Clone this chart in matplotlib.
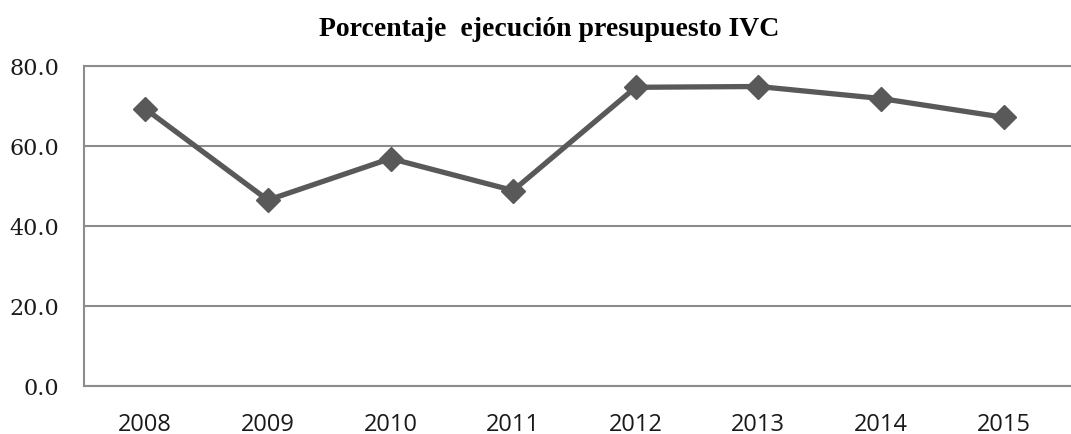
import matplotlib
matplotlib.use("Agg")
import matplotlib.pyplot as plt
import numpy as np

# data
years = ['2008', '2009', '2010', '2011', '2012', '2013', '2014', '2015']
ejecucion = [69.2, 46.4, 56.8, 48.8, 74.6, 74.8, 71.8, 67.1]
y_ticks = [0, 20, 40, 60, 80]

line_col = '#595959'
grid_col = '#8c8c8c'

fig = plt.figure(figsize=(10.71, 4.35), dpi=100)
ax = fig.add_axes([84/1071, 1 - 386.7/435, 1 - 84/1071, (386.7 - 66.7)/435])

x = np.arange(len(years))
ax.plot(x, ejecucion, color=line_col, linewidth=3.8, marker='D',
        markersize=12.5, markerfacecolor=line_col, markeredgecolor=line_col,
        zorder=3, clip_on=False)

ax.set_ylim(0, 80)
ax.set_xlim(-0.5, 7.55)
ax.set_yticks(y_ticks)
ax.set_yticklabels(['%.1f' % v for v in y_ticks], fontfamily='DejaVu Serif',
                   fontsize=16, color='#1a1a1a')
ax.set_xticks(x)
ax.set_xticklabels(years, fontfamily='Open Sans', fontsize=17, color='#1a1a1a')
ax.tick_params(axis='y', length=0, pad=18)
ax.tick_params(axis='x', length=0, pad=19)

ax.yaxis.grid(True, color=grid_col, linewidth=1.5)
ax.set_axisbelow(True)
for s in ['left', 'bottom', 'top']:
    ax.spines[s].set_color(grid_col)
    ax.spines[s].set_linewidth(1.5)
ax.spines['right'].set_visible(False)

fig.text(549/1071, 1 - 30/435, 'Porcentaje  ejecución presupuesto IVC',
         ha='center', va='center', fontfamily='Liberation Serif',
         fontweight='bold', fontsize=20)

fig.savefig('out.png', dpi=100)
plt.close()
